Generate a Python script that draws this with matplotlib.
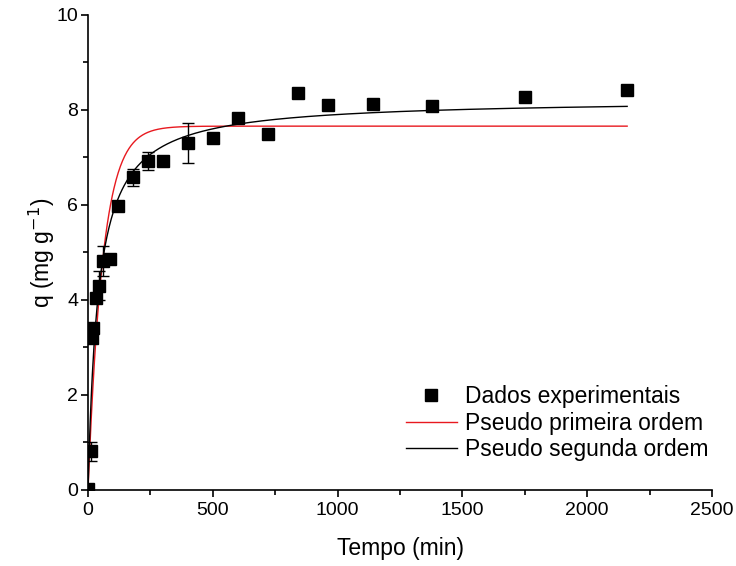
import numpy as np
import matplotlib.pyplot as plt
from matplotlib.ticker import MultipleLocator
from matplotlib.lines import Line2D

plt.rcParams['font.family'] = ['Liberation Sans', 'DejaVu Sans']

# Dados experimentais (tempo em min, q em mg/g)
tempo = [0, 10, 15, 20, 30, 45, 60, 90, 120, 180, 240, 300, 400, 500,
         600, 720, 840, 960, 1140, 1380, 1750, 2160]
q_exp = [0.02, 0.82, 3.2, 3.4, 4.05, 4.3, 4.82, 4.87, 5.97, 6.58, 6.93, 6.93,
         7.3, 7.4, 7.83, 7.49, 8.36, 8.1, 8.13, 8.08, 8.28, 8.42]
q_err = [0, 0.2, 0.1, 0.1, 0, 0.3, 0.32, 0, 0.08, 0.17, 0.19, 0, 0.42, 0,
         0, 0, 0, 0, 0, 0, 0, 0]

# Parâmetros dos modelos
qe1, k1 = 7.66, 0.017      # pseudo primeira ordem
qe2, h2 = 8.23, 0.0243     # pseudo segunda ordem (h2 = qe*k2)

t = np.linspace(0, 2160, 1000)
q1 = qe1 * (1 - np.exp(-k1 * t))
q2 = qe2 * h2 * t / (1 + h2 * t)

fig = plt.figure(figsize=(7.36, 5.66), dpi=100)
ax = fig.add_axes([0.1196, 0.1343, 0.8478, 0.8392])

ax.errorbar(tempo, q_exp, yerr=q_err, fmt='s', color='black', markersize=8,
            ecolor='black', elinewidth=1, capsize=4, capthick=1, zorder=3)
ax.plot(t, q1, color='#e8191f', linewidth=1)
ax.plot(t, q2, color='black', linewidth=1)

ax.set_xlim(0, 2500)
ax.set_ylim(0, 10)
ax.xaxis.set_major_locator(MultipleLocator(500))
ax.xaxis.set_minor_locator(MultipleLocator(250))
ax.yaxis.set_major_locator(MultipleLocator(2))
ax.yaxis.set_minor_locator(MultipleLocator(1))
ax.tick_params(which='major', direction='out', length=5, width=1.2, labelsize=14)
ax.tick_params(which='minor', direction='out', length=3.5, width=1.2)
ax.tick_params(axis='y', which='major', pad=2)

for s in ['top', 'right']:
    ax.spines[s].set_visible(False)
for s in ['left', 'bottom']:
    ax.spines[s].set_linewidth(1.2)

ax.set_xlabel('Tempo (min)', fontsize=16.5, labelpad=13)
ax.set_ylabel('q (mg g$^{-1}$)', fontsize=16.5, labelpad=0)

handles = [
    Line2D([], [], marker='s', color='black', linestyle='none', markersize=8),
    Line2D([], [], color='#e8191f', linewidth=1),
    Line2D([], [], color='black', linewidth=1),
]
labels = ['Dados experimentais', 'Pseudo primeira ordem', 'Pseudo segunda ordem']
ax.legend(handles, labels, loc='lower left', bbox_to_anchor=(0.552, 0.185),
          bbox_transform=fig.transFigure, frameon=False, fontsize=16.5,
          handlelength=2.2, handletextpad=0.35, labelspacing=0.15,
          borderaxespad=0, borderpad=0)

fig.savefig('out.png', dpi=100)
